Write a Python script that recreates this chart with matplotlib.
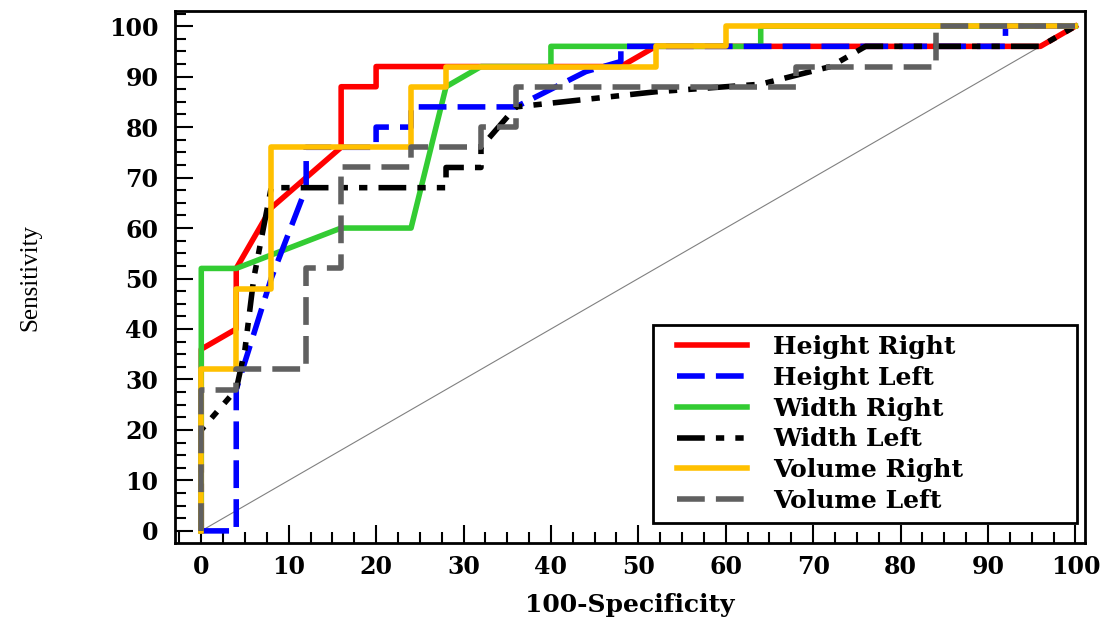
import matplotlib
matplotlib.use("Agg")
import matplotlib.pyplot as plt
from matplotlib.ticker import MultipleLocator
from matplotlib.legend_handler import HandlerLine2D
from matplotlib.lines import Line2D

# ROC points (100-Specificity, Sensitivity)
height_right_x = [0, 0, 4, 4, 8, 16, 16, 20, 20, 48, 52, 96, 100]
height_right_y = [0, 36, 40, 52, 64, 76, 88, 88, 92, 92, 96, 96, 100]

height_left_x = [0, 4, 4, 8, 12, 12, 20, 20, 24, 24, 36, 44, 48, 48, 92, 92, 100]
height_left_y = [0, 0, 28, 50, 68, 76, 76, 80, 80, 84, 84, 91, 93, 96, 96, 100, 100]

width_right_x = [0, 0, 4, 16, 24, 28, 32, 40, 40, 64, 64, 100]
width_right_y = [0, 52, 52, 60, 60, 88, 92, 92, 96, 96, 100, 100]

width_left_x = [0, 0, 4, 5, 6, 8, 28, 28, 32, 32, 36, 44, 52, 64, 72, 76, 96, 100]
width_left_y = [0, 20, 28, 36, 50, 68, 68, 72, 72, 76, 84, 85.5, 87, 88.5, 92, 96, 96, 100]

volume_right_x = [0, 0, 4, 4, 8, 8, 24, 24, 28, 28, 52, 52, 60, 60, 100]
volume_right_y = [0, 32, 32, 48, 48, 76, 76, 88, 88, 92, 92, 96, 96, 100, 100]

volume_left_x = [0, 0, 4, 4, 12, 12, 16, 16, 24, 24, 32, 32, 36, 36, 68, 68, 84, 84, 100]
volume_left_y = [0, 28, 28, 32, 32, 52, 52, 72, 72, 76, 76, 80, 80, 88, 88, 92, 92, 100, 100]

ticks = list(range(0, 101, 10))

fig = plt.figure(figsize=(11.03, 6.19), dpi=100)
ax = fig.add_axes([0.1587, 0.1228, 0.825, 0.8594])

# reference diagonal
ax.plot([0, 100], [0, 100], color='#808080', lw=0.8, zorder=1)

lw = 4
ax.plot(height_right_x, height_right_y, color='#FF0000', lw=lw, label='Height Right', zorder=2)
ax.plot(height_left_x, height_left_y, color='#0000FF', lw=lw, dashes=(5, 2), label='Height Left', zorder=3)
ax.plot(width_right_x, width_right_y, color='#33CC33', lw=lw, label='Width Right', zorder=2.5)
ax.plot(width_left_x, width_left_y, color='black', lw=lw, dashes=(5, 2, 1.5, 2, 1.5, 2), label='Width Left', zorder=3.5)
ax.plot(volume_right_x, volume_right_y, color='#FFC000', lw=lw, label='Volume Right', zorder=4)
ax.plot(volume_left_x, volume_left_y, color='#606060', lw=lw, dashes=(5, 2), label='Volume Left', zorder=5)

ax.set_xlim(-3, 101.1)
ax.set_ylim(-2.4, 103)
ax.set_xticks(ticks)
ax.set_yticks(ticks)
ax.xaxis.set_minor_locator(MultipleLocator(2.5))
ax.yaxis.set_minor_locator(MultipleLocator(2.5))
ax.tick_params(which='both', direction='in', top=False, right=False, width=1.5)
ax.tick_params(which='major', length=13)
ax.tick_params(which='minor', length=8)
ax.tick_params(axis='x', pad=9)
ax.tick_params(axis='y', pad=12)
for lab in ax.get_xticklabels() + ax.get_yticklabels():
    lab.set_fontfamily('DejaVu Serif')
    lab.set_fontweight('bold')
    lab.set_fontsize(17)
for sp in ax.spines.values():
    sp.set_linewidth(2)

ax.set_xlabel('100-Specificity', fontfamily='DejaVu Serif', fontweight='bold', fontsize=18, labelpad=10)
ax.set_ylabel('Sensitivity', fontfamily='Liberation Serif', fontsize=18)
ax.yaxis.set_label_coords(-0.147, 0.5)

# padded handles so the sample lines sit inside the box like the original
leg = ax.legend(loc='lower left', bbox_to_anchor=(0.525, 0.0376, 0.466, 0.368), mode='expand',
                borderaxespad=0, fancybox=False, framealpha=1, edgecolor='black',
                handlelength=3.92, handletextpad=0.48, labelspacing=0.27, borderpad=0.4,
                handler_map={Line2D: HandlerLine2D(marker_pad=0.56, numpoints=2)},
                prop={'family': 'DejaVu Serif', 'weight': 'bold', 'size': 18})
leg.get_frame().set_linewidth(2)

plt.savefig('out.png', dpi=100)
